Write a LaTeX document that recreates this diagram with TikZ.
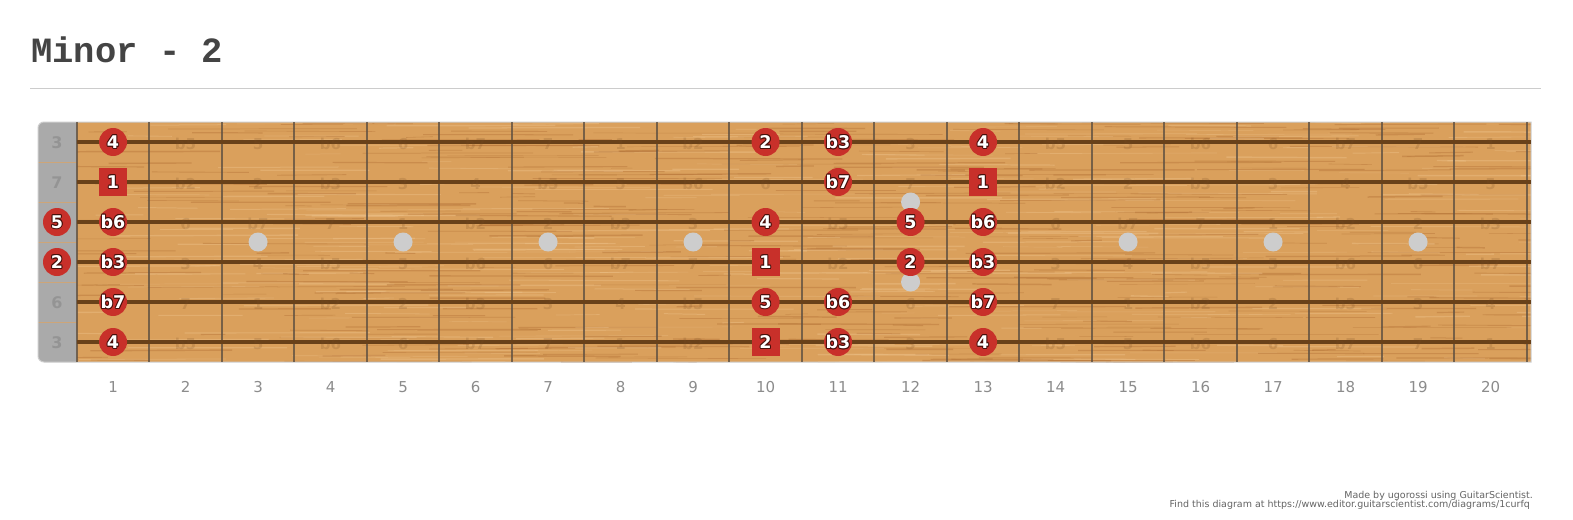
\documentclass[tikz,border=0pt]{standalone}
\usepackage{fontspec}
\usepackage{graphicx}
\setmainfont{DejaVu Sans}
\newfontfamily\titlefont{Liberation Mono}
\usetikzlibrary{calc}

\definecolor{wood}{RGB}{218,160,92}
\definecolor{woodD}{RGB}{178,112,52}
\definecolor{woodL}{RGB}{238,195,140}
\definecolor{strcol}{RGB}{105,65,25}
\definecolor{fretcol}{RGB}{95,80,65}
\definecolor{nutgrey}{RGB}{170,170,170}
\definecolor{nutline}{RGB}{205,165,120}
\definecolor{mred}{RGB}{200,48,42}
\definecolor{outl}{RGB}{70,15,10}
\definecolor{dotgrey}{RGB}{205,205,205}
\definecolor{ghost}{RGB}{120,75,35}
\definecolor{titlecol}{RGB}{68,68,68}
\definecolor{rulecol}{RGB}{204,204,204}
\definecolor{fnumcol}{RGB}{140,140,140}
\definecolor{creditcol}{RGB}{100,100,100}

\newcommand\ivname[1]{\ifcase#1 1\or b2\or 2\or b3\or 3\or 4\or b5\or 5\or b6\or 6\or b7\or 7\fi}

\tikzset{
  markc/.style={circle, fill=mred, minimum size=28pt, inner sep=0pt},
  marks/.style={rectangle, fill=mred, minimum size=28pt, inner sep=0pt},
  mtxt/.style={inner sep=0pt, font=\fontsize{17.5}{17.5}\selectfont\bfseries},
  ghosttxt/.style={inner sep=0pt, text=ghost, text opacity=0.2, font=\fontsize{15}{15}\selectfont\bfseries},
  nuttxt/.style={inner sep=0pt, text={rgb,255:red,148;green,148;blue,148}, font=\fontsize{16}{16}\selectfont\bfseries},
  fnum/.style={inner sep=0pt, text=fnumcol, font=\fontsize{15}{15}\selectfont},
  inlay/.style={circle, fill=dotgrey, minimum size=19pt, inner sep=0pt},
  credit/.style={inner sep=0pt, text=creditcol, font=\fontsize{9.5}{9.5}\selectfont}
}

\newcommand\marktext[2]{%
  \foreach \dx/\dy in {-1/0,1/0,0/-1,0/1,-0.7/-0.7,0.7/0.7,-0.7/0.7,0.7/-0.7}{%
    \node[mtxt,text=outl] at ([shift={(\dx,\dy)}]#1) {#2};}%
  \node[mtxt,text=white] at (#1) {#2};}

\def\markerlist{
  1/1/4/c, 1/10/2/c, 1/11/b3/c, 1/13/4/c,
  2/1/1/s, 2/11/b7/c, 2/13/1/s,
  3/0/5/c, 3/1/b6/c, 3/10/4/c, 3/12/5/c, 3/13/b6/c,
  4/0/2/c, 4/1/b3/c, 4/10/1/s, 4/12/2/c, 4/13/b3/c,
  5/1/b7/c, 5/10/5/c, 5/11/b6/c, 5/13/b7/c,
  6/1/4/c, 6/10/2/s, 6/11/b3/c, 6/13/4/c}

\begin{document}
\begin{tikzpicture}[x=1pt,y=-1pt]
\useasboundingbox (0,0) rectangle (1573,519);
\fill[white] (0,0) rectangle (1573,519);

% remember which cells carry a marker
\foreach \s/\k/\t/\sh in \markerlist{
  \expandafter\gdef\csname mk@\s @\k\endcsname{}
}

% title and rule
\node[anchor=base west, inner sep=0pt, text=titlecol] (title) at (31,63)
  {\titlefont\fontsize{35.5}{40}\selectfont\bfseries Minor - 2};
\draw[rulecol, line width=1] (30,88) -- (1541,88);

% board
\fill[wood] (76.8,122) rectangle (1531,362);
\begin{scope}
  \clip (76.8,122) rectangle (1531,362);
  \pgfmathsetseed{7}
  \foreach \i in {1,...,750}{
    \pgfmathsetmacro\gx{60+1480*rnd}
    \pgfmathsetmacro\gy{120+244*rnd}
    \pgfmathsetmacro\gl{20+170*rnd}
    \pgfmathsetmacro\gw{0.4+1.1*rnd}
    \pgfmathsetmacro\gs{1.6*rnd-0.8}
    \pgfmathsetmacro\gt{rnd}
    \ifdim\gt pt<0.55pt \def\gc{woodD}\else\def\gc{woodL}\fi
    \draw[\gc, line width=\gw, opacity=0.4] (\gx,\gy) -- ++(\gl,\gs);
  }
\end{scope}
\fill[nutgrey] (76.8,122) [rounded corners=6]-- (38,122) -- (38,362) [sharp corners]-- (76.8,362) -- cycle;
\foreach \y in {162,202,242,282,322}{
  \draw[nutline, line width=0.6] (38,\y) -- (76.8,\y);
}
\draw[rulecol, line width=1] (1531,122) [rounded corners=6]-- (38,122) -- (38,362) [sharp corners]-- (1531,362) -- cycle;

% frets
\foreach \k in {0,...,20}{
  \draw[fretcol, line width=2, opacity=0.8] ({76.8+72.5*\k},122) -- ({76.8+72.5*\k},362);
}
% strings
\foreach \s in {1,...,6}{
  \draw[strcol, line width=3.2] (76.8,{102+40*\s}) -- (1531,{102+40*\s});
}

% ghost interval labels (not under markers)
\foreach \s/\o in {1/4,2/11,3/7,4/2,5/9,6/4}{
  \foreach \k in {1,...,20}{
    \ifcsname mk@\s @\k\endcsname\else
      \pgfmathtruncatemacro\idx{mod(\o+\k,12)}
      \node[ghosttxt] (g-\s-\k) at ({40.55+72.5*\k},{104+40*\s}) {\ivname{\idx}};
    \fi
  }
}
% open string labels on the nut
\foreach \s/\t in {1/3,2/7,5/6,6/3}{
  \node[nuttxt] (n-\s) at (57,{103+40*\s}) {\t};
}

% inlay dots
\foreach \k in {3,5,7,9,15,17,19}{
  \node[inlay] (d-\k) at ({40.55+72.5*\k},242) {};
}
\node[inlay] (d-12a) at ({40.55+72.5*12},202) {};
\node[inlay] (d-12b) at ({40.55+72.5*12},282) {};

% markers
\foreach \s/\k/\t/\sh in \markerlist{
  \pgfmathsetmacro\mx{ifthenelse(\k==0,57,40.55+72.5*\k)}
  \node[mark\sh] (m-\s-\k) at (\mx,{102+40*\s}) {};
  \marktext{m-\s-\k}{\t}
}

% fret numbers
\foreach \k in {1,...,20}{
  \node[fnum] (f-\k) at ({40.55+72.5*\k},387) {\k};
}

% credits
\node[credit, anchor=base east] (c1) at (1533,498.5) {Made by ugorossi using GuitarScientist.};
\node[credit, anchor=base east] (c2) at (1530,507.5) {Find this diagram at https://www.editor.guitarscientist.com/diagrams/1curfq};
\end{tikzpicture}
\end{document}
